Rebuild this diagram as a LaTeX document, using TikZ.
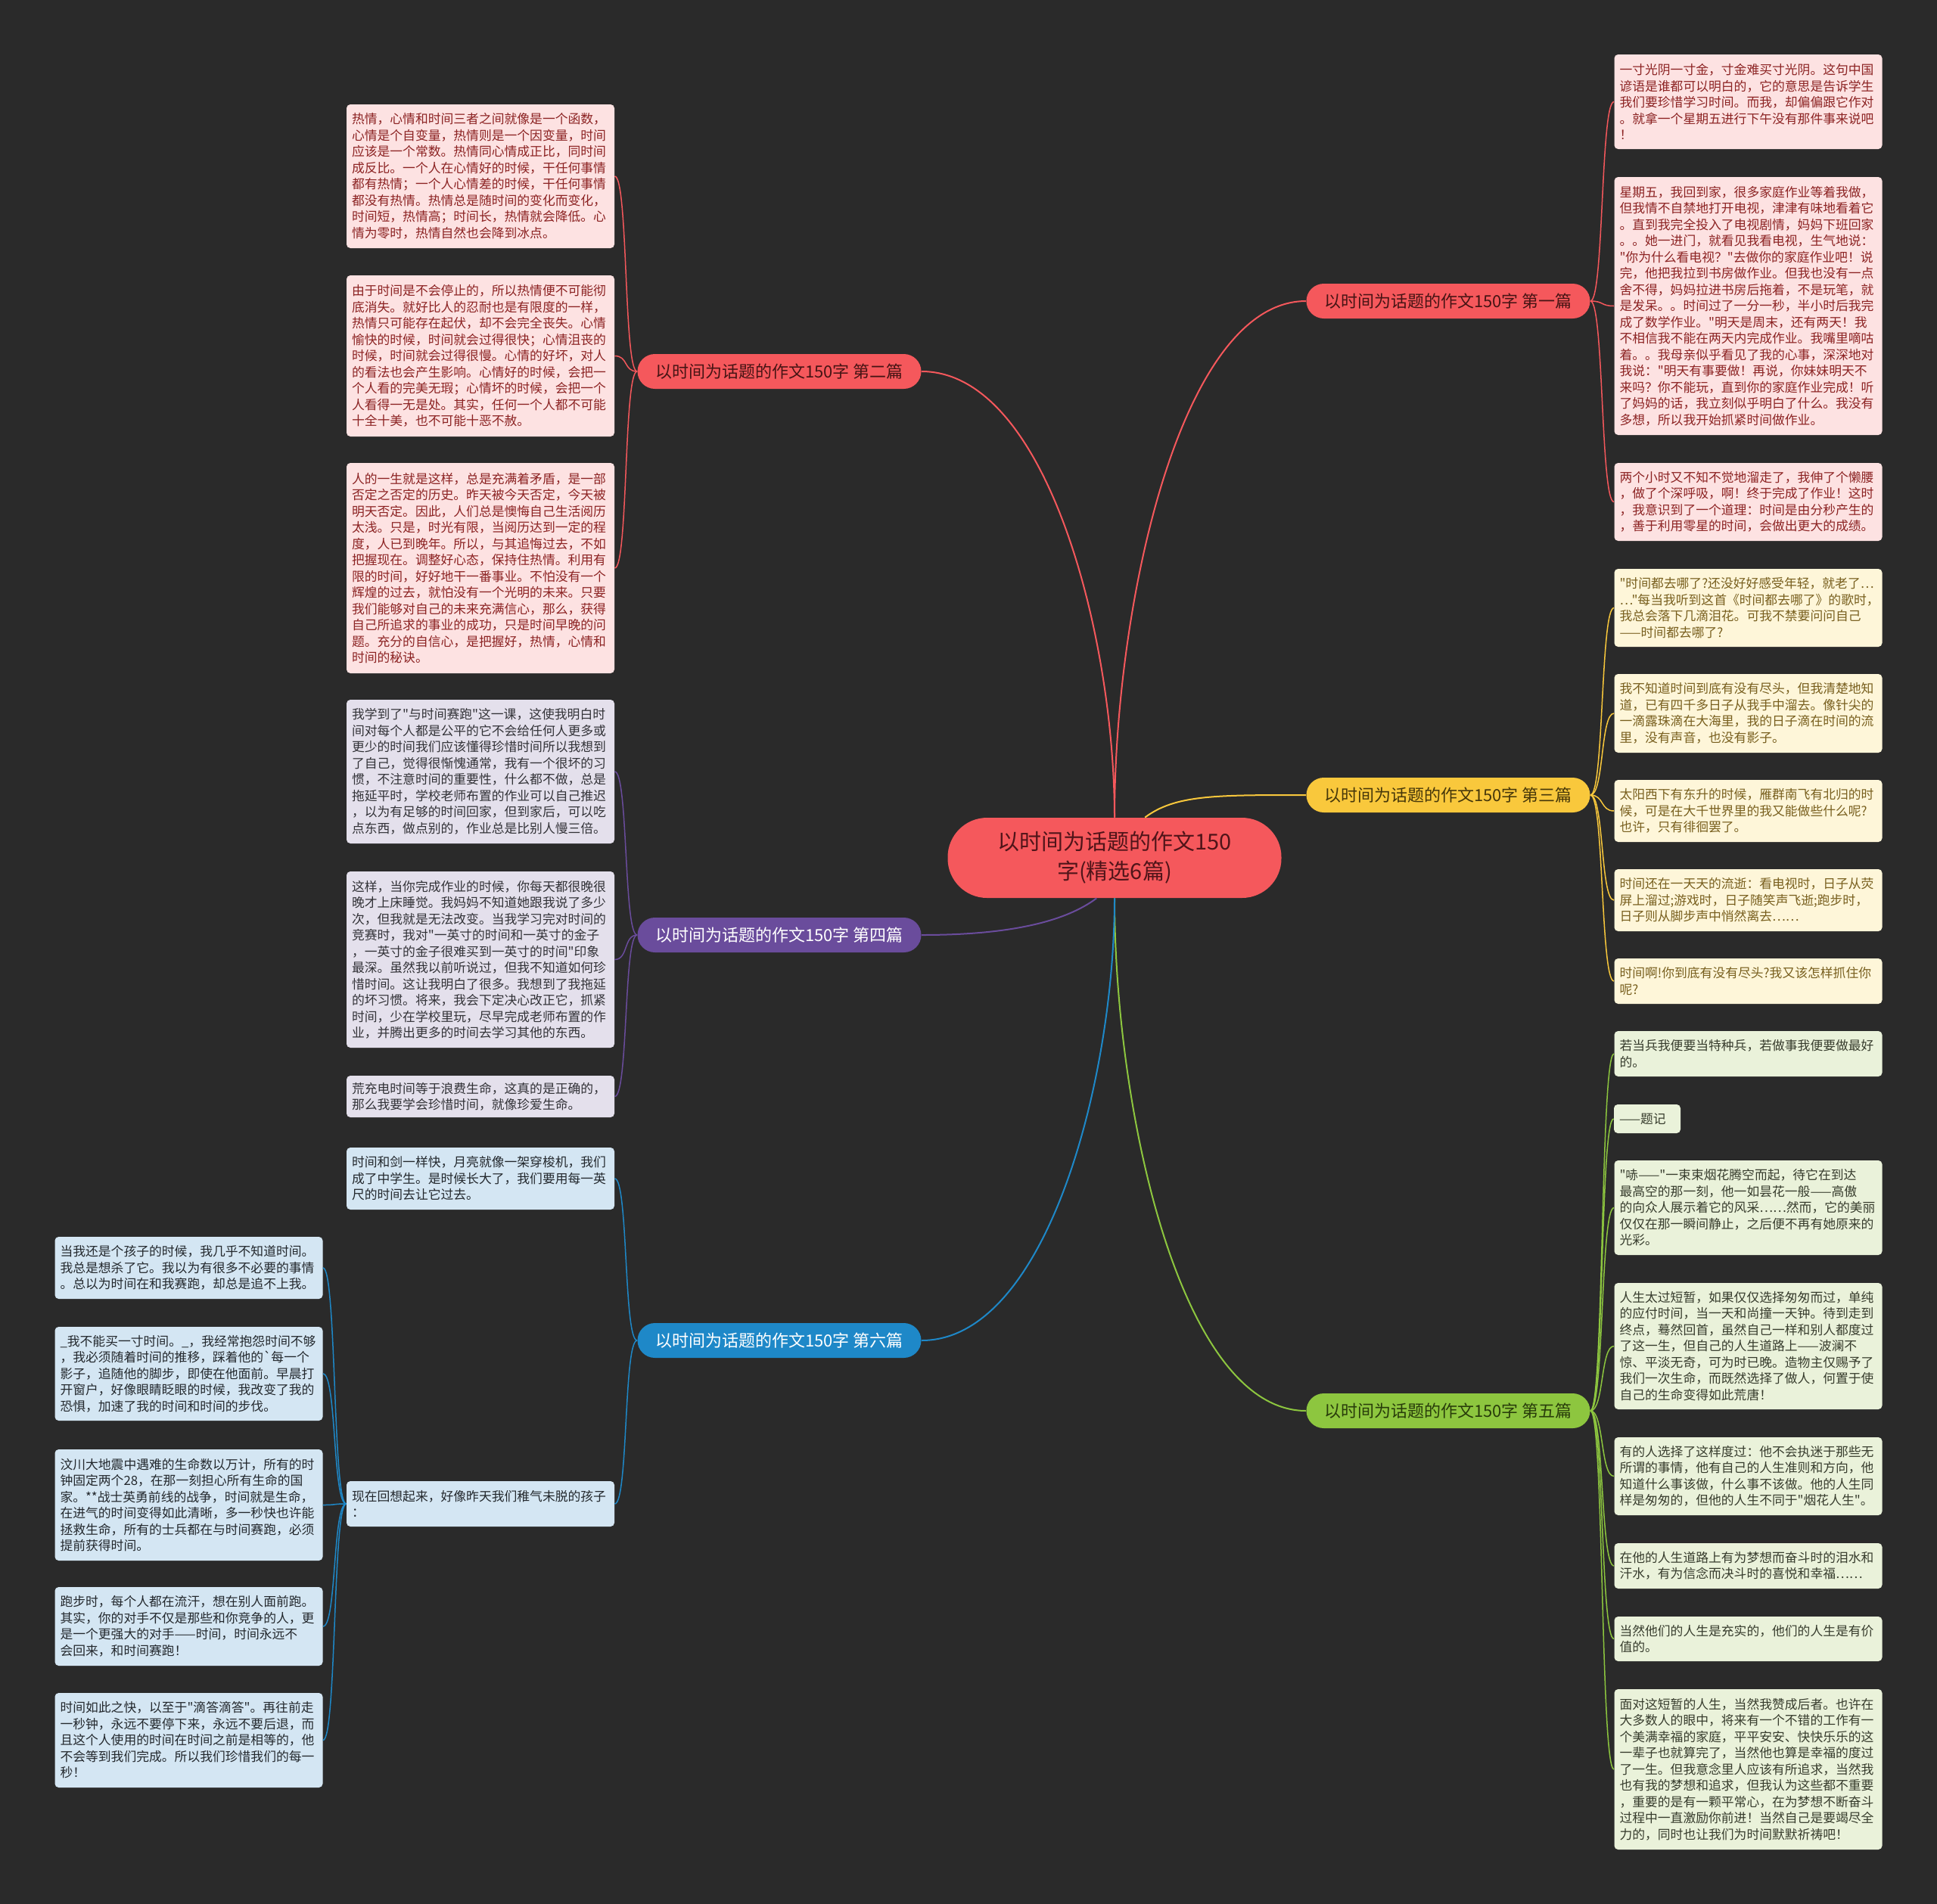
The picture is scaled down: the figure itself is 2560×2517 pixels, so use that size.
\documentclass[tikz,border=0pt]{standalone}
\usepackage{fontspec}
\newfontfamily\cjk{Noto Sans CJK SC}
\definecolor{bg}{RGB}{42,42,42}
\definecolor{cred}{RGB}{245,88,92}
\definecolor{cyel}{RGB}{249,200,60}
\definecolor{cpur}{RGB}{106,76,156}
\definecolor{cblu}{RGB}{30,136,200}
\definecolor{cgrn}{RGB}{141,198,63}
\definecolor{fred}{RGB}{253,226,226}
\definecolor{fyel}{RGB}{254,246,217}
\definecolor{fpur}{RGB}{228,224,236}
\definecolor{fblu}{RGB}{212,230,243}
\definecolor{fgrn}{RGB}{234,242,218}
\definecolor{tred}{RGB}{140,35,35}
\definecolor{tyel}{RGB}{120,95,30}
\definecolor{tpur}{RGB}{50,50,55}
\definecolor{tblu}{RGB}{35,40,45}
\definecolor{tgrn}{RGB}{55,60,45}
\definecolor{bred}{RGB}{70,20,20}
\definecolor{byel}{RGB}{70,55,10}
\definecolor{bgrn}{RGB}{40,60,10}
\definecolor{ctxt}{RGB}{80,20,25}
\tikzset{
  leaf/.style={rounded corners=2.5pt, text width=170pt, inner xsep=3.5pt, inner ysep=0pt, align=left,
    font=\cjk\fontsize{8.4}{10.75}\selectfont},
  lred/.style={leaf, fill=fred, text=tred},
  lyel/.style={leaf, fill=fyel, text=tyel},
  lpur/.style={leaf, fill=fpur, text=tpur},
  lblu/.style={leaf, fill=fblu, text=tblu},
  lgrn/.style={leaf, fill=fgrn, text=tgrn},
  branch/.style={rounded corners=11.5pt, minimum width=187.5pt, minimum height=23pt, inner sep=0pt,
    font=\cjk\fontsize{11}{13}\selectfont},
  hub/.style={rounded corners=26pt, minimum width=220.5pt, minimum height=53pt, inner sep=0pt, align=center,
    fill=cred, text=ctxt, font=\cjk\fontsize{14.5}{19.5}\selectfont},
  mainline/.style={line width=1pt},
  subline/.style={line width=0.75pt},
}
\begin{document}
\begin{tikzpicture}[x=0.5pt,y=-0.5pt]
\fill[bg] (0,0) rectangle (2560,2517);
\useasboundingbox (0,0) rectangle (2560,2517);

% center
\node[hub] (c) at (1473,1134) {以时间为话题的作文150\\字(精选6篇)};

% branches
\node[branch, fill=cred, text=bred] (b1) at (1914,398) {以时间为话题的作文150字 第一篇};
\node[branch, fill=cred, text=bred] (b2) at (1030,491) {以时间为话题的作文150字 第二篇};
\node[branch, fill=cyel, text=byel] (b3) at (1914,1051) {以时间为话题的作文150字 第三篇};
\node[branch, fill=cpur, text=white] (b4) at (1030,1236) {以时间为话题的作文150字 第四篇};
\node[branch, fill=cgrn, text=bgrn] (b5) at (1914,1865) {以时间为话题的作文150字 第五篇};
\node[branch, fill=cblu, text=white] (b6) at (1030,1772) {以时间为话题的作文150字 第六篇};

% center connectors
\draw[mainline, cred] (c.north) .. controls +(0,-281) and +(-166,0) .. (b1.west);
\draw[mainline, cred] (c.north) .. controls +(0,-240) and +(165,0) .. (b2.east);
\draw[mainline, cyel] (c.53.6) .. controls +(40,-30) and +(-120,0) .. (b3.west);
\draw[mainline, cpur] (c.246.5) .. controls +(-40,30) and +(120,0) .. (b4.east);
\draw[mainline, cgrn] (c.south) .. controls +(0,280) and +(-166,0) .. (b5.west);
\draw[mainline, cblu] (c.south) .. controls +(0,240) and +(165,0) .. (b6.east);

% ---- 第二篇 leaves
\node[lred, minimum height=95pt] (l1) at (635,233) {热情，心情和时间三者之间就像是一个函数，\\心情是个自变量，热情则是一个因变量，时间\\应该是一个常数。热情同心情成正比，同时间\\成反比。一个人在心情好的时候，干任何事情\\都有热情；一个人心情差的时候，干任何事情\\都没有热情。热情总是随时间的变化而变化，\\时间短，热情高；时间长，热情就会降低。心\\情为零时，热情自然也会降到冰点。};
\node[lred, minimum height=106.5pt] (l2) at (635,470.5) {由于时间是不会停止的，所以热情便不可能彻\\底消失。就好比人的忍耐也是有限度的一样，\\热情只可能存在起伏，却不会完全丧失。心情\\愉快的时候，时间就会过得很快；心情沮丧的\\时候，时间就会过得很慢。心情的好坏，对人\\的看法也会产生影响。心情好的时候，会把一\\个人看的完美无瑕；心情坏的时候，会把一个\\人看得一无是处。其实，任何一个人都不可能\\十全十美，也不可能十恶不赦。};
\node[lred, minimum height=139pt] (l3) at (635,751) {人的一生就是这样，总是充满着矛盾，是一部\\否定之否定的历史。昨天被今天否定，今天被\\明天否定。因此，人们总是懊悔自己生活阅历\\太浅。只是，时光有限，当阅历达到一定的程\\度，人已到晚年。所以，与其追悔过去，不如\\把握现在。调整好心态，保持住热情。利用有\\限的时间，好好地干一番事业。不怕没有一个\\辉煌的过去，就怕没有一个光明的未来。只要\\我们能够对自己的未来充满信心，那么，获得\\自己所追求的事业的成功，只是时间早晚的问\\题。充分的自信心，是把握好，热情，心情和\\时间的秘诀。};

% ---- 第四篇 leaves
\node[lpur, minimum height=95pt] (p1) at (635,1020) {我学到了"与时间赛跑"这一课，这使我明白时\\间对每个人都是公平的它不会给任何人更多或\\更少的时间我们应该懂得珍惜时间所以我想到\\了自己，觉得很惭愧通常，我有一个很坏的习\\惯，不注意时间的重要性，什么都不做，总是\\拖延平时，学校老师布置的作业可以自己推迟\\，以为有足够的时间回家，但到家后，可以吃\\点东西，做点别的，作业总是比别人慢三倍。};
\node[lpur, minimum height=116.5pt] (p2) at (635,1268.5) {这样，当你完成作业的时候，你每天都很晚很\\晚才上床睡觉。我妈妈不知道她跟我说了多少\\次，但我就是无法改变。当我学习完对时间的\\竞赛时，我对"一英寸的时间和一英寸的金子\\，一英寸的金子很难买到一英寸的时间"印象\\最深。虽然我以前听说过，但我不知道如何珍\\惜时间。这让我明白了很多。我想到了我拖延\\的坏习惯。将来，我会下定决心改正它，抓紧\\时间，少在学校里玩，尽早完成老师布置的作\\业，并腾出更多的时间去学习其他的东西。};
\node[lpur, minimum height=27.5pt] (p3) at (635,1449.5) {荒充电时间等于浪费生命，这真的是正确的，\\那么我要学会珍惜时间，就像珍爱生命。};

% ---- 第六篇 leaves
\node[lblu, minimum height=41pt] (s1) at (635,1558) {时间和剑一样快，月亮就像一架穿梭机，我们\\成了中学生。是时候长大了，我们要用每一英\\尺的时间去让它过去。};
\node[lblu, minimum height=30pt] (s2) at (635,1988) {现在回想起来，好像昨天我们稚气未脱的孩子\\：};

\node[lblu, minimum height=41pt] (f1) at (249.5,1676) {当我还是个孩子的时候，我几乎不知道时间。\\我总是想杀了它。我以为有很多不必要的事情\\。总以为时间在和我赛跑，却总是追不上我。};
\node[lblu, minimum height=62pt] (f2) at (249.5,1816) {\_我不能买一寸时间。\_，我经常抱怨时间不够\\，我必须随着时间的推移，踩着他的\textasciigrave{}每一个\\影子，追随他的脚步，即使在他面前。早晨打\\开窗户，好像眼睛眨眼的时候，我改变了我的\\恐惧，加速了我的时间和时间的步伐。};
\node[lblu, minimum height=73.5pt] (f3) at (249.5,1989.5) {汶川大地震中遇难的生命数以万计，所有的时\\钟固定两个28，在那一刻担心所有生命的国\\家。**战士英勇前线的战争，时间就是生命，\\在进气的时间变得如此清晰，多一秒快也许能\\拯救生命，所有的士兵都在与时间赛跑，必须\\提前获得时间。};
\node[lblu, minimum height=52pt] (f4) at (249.5,2150) {跑步时，每个人都在流汗，想在别人面前跑。\\其实，你的对手不仅是那些和你竞争的人，更\\是一个更强大的对手——时间，时间永远不\\会回来，和时间赛跑！};
\node[lblu, minimum height=62.5pt] (f5) at (249.5,2300.5) {时间如此之快，以至于"滴答滴答"。再往前走\\一秒钟，永远不要停下来，永远不要后退，而\\且这个人使用的时间在时间之前是相等的，他\\不会等到我们完成。所以我们珍惜我们的每一\\秒！};

% ---- 第一篇 leaves
\node[lred, minimum height=62.5pt] (r1) at (2310.5,134.5) {一寸光阴一寸金，寸金难买寸光阴。这句中国\\谚语是谁都可以明白的，它的意思是告诉学生\\我们要珍惜学习时间。而我，却偏偏跟它作对\\。就拿一个星期五进行下午没有那件事来说吧\\！};
\node[lred, minimum height=170.5pt] (r2) at (2310.5,404.5) {星期五，我回到家，很多家庭作业等着我做，\\但我情不自禁地打开电视，津津有味地看着它\\。直到我完全投入了电视剧情，妈妈下班回家\\。。她一进门，就看见我看电视，生气地说：\\"你为什么看电视？"去做你的家庭作业吧！说\\完，他把我拉到书房做作业。但我也没有一点\\舍不得，妈妈拉进书房后拖着，不是玩笔，就\\是发呆。。时间过了一分一秒，半小时后我完\\成了数学作业。"明天是周末，还有两天！我\\不相信我不能在两天内完成作业。我嘴里嘀咕\\着。。我母亲似乎看见了我的心事，深深地对\\我说："明天有事要做！再说，你妹妹明天不\\来吗？你不能玩，直到你的家庭作业完成！听\\了妈妈的话，我立刻似乎明白了什么。我没有\\多想，所以我开始抓紧时间做作业。};
\node[lred, minimum height=51.5pt] (r3) at (2310.5,663.5) {两个小时又不知不觉地溜走了，我伸了个懒腰\\，做了个深呼吸，啊！终于完成了作业！这时\\，我意识到了一个道理：时间是由分秒产生的\\，善于利用零星的时间，会做出更大的成绩。};

% ---- 第三篇 leaves
\node[lyel, minimum height=51.5pt] (y1) at (2310.5,803.5) {"时间都去哪了?还没好好感受年轻，就老了…\\…"每当我听到这首《时间都去哪了》的歌时，\\我总会落下几滴泪花。可我不禁要问问自己\\——时间都去哪了?};
\node[lyel, minimum height=52pt] (y2) at (2310.5,943) {我不知道时间到底有没有尽头，但我清楚地知\\道，已有四千多日子从我手中溜去。像针尖的\\一滴露珠滴在大海里，我的日子滴在时间的流\\里，没有声音，也没有影子。};
\node[lyel, minimum height=41pt] (y3) at (2310.5,1072) {太阳西下有东升的时候，雁群南飞有北归的时\\候，可是在大千世界里的我又能做些什么呢?\\也许，只有徘徊罢了。};
\node[lyel, minimum height=41pt] (y4) at (2310.5,1190) {时间还在一天天的流逝：看电视时，日子从荧\\屏上溜过;游戏时，日子随笑声飞逝;跑步时，\\日子则从脚步声中悄然离去……};
\node[lyel, minimum height=30pt] (y5) at (2310.5,1297) {时间啊!你到底有没有尽头?我又该怎样抓住你\\呢?};

% ---- 第五篇 leaves
\node[lgrn, minimum height=30pt] (g1) at (2310.5,1393) {若当兵我便要当特种兵，若做事我便要做最好\\的。};
\node[lgrn, text width=37pt, minimum height=19pt] (g2) at (2177,1479) {——题记};
\node[lgrn, minimum height=62.5pt] (g3) at (2310.5,1596.5) {"哧——"一束束烟花腾空而起，待它在到达\\最高空的那一刻，他一如昙花一般——高傲\\的向众人展示着它的风采……然而，它的美丽\\仅仅在那一瞬间静止，之后便不再有她原来的\\光彩。};
\node[lgrn, minimum height=83.5pt] (g4) at (2310.5,1779.5) {人生太过短暂，如果仅仅选择匆匆而过，单纯\\的应付时间，当一天和尚撞一天钟。待到走到\\终点，蓦然回首，虽然自己一样和别人都度过\\了这一生，但自己的人生道路上——波澜不\\惊、平淡无奇，可为时已晚。造物主仅赐予了\\我们一次生命，而既然选择了做人，何置于使\\自己的生命变得如此荒唐！};
\node[lgrn, minimum height=51.5pt] (g5) at (2310.5,1951.5) {有的人选择了这样度过：他不会执迷于那些无\\所谓的事情，他有自己的人生准则和方向，他\\知道什么事该做，什么事不该做。他的人生同\\样是匆匆的，但他的人生不同于"烟花人生"。};
\node[lgrn, minimum height=30pt] (g6) at (2310.5,2070) {在他的人生道路上有为梦想而奋斗时的泪水和\\汗水，有为信念而决斗时的喜悦和幸福……};
\node[lgrn, minimum height=29.5pt] (g7) at (2310.5,2166.5) {当然他们的人生是充实的，他们的人生是有价\\值的。};
\node[lgrn, minimum height=106pt] (g8) at (2310.5,2339) {面对这短暂的人生，当然我赞成后者。也许在\\大多数人的眼中，将来有一个不错的工作有一\\个美满幸福的家庭，平平安安、快快乐乐的这\\一辈子也就算完了，当然他也算是幸福的度过\\了一生。但我意念里人应该有所追求，当然我\\也有我的梦想和追求，但我认为这些都不重要\\，重要的是有一颗平常心，在为梦想不断奋斗\\过程中一直激励你前进！当然自己是要竭尽全\\力的，同时也让我们为时间默默祈祷吧！};

% ---- leaf connectors
\foreach \n in {r1,r2,r3}
  \draw[subline, cred] (b1.east) .. controls +(18,0) and +(-18,0) .. (\n.west);
\foreach \n in {l1,l2,l3}
  \draw[subline, cred] (b2.west) .. controls +(-18,0) and +(18,0) .. (\n.east);
\foreach \n in {y1,y2,y3,y4,y5}
  \draw[subline, cyel] (b3.east) .. controls +(18,0) and +(-18,0) .. (\n.west);
\foreach \n in {p1,p2,p3}
  \draw[subline, cpur] (b4.west) .. controls +(-18,0) and +(18,0) .. (\n.east);
\foreach \n in {g1,g2,g3,g4,g5,g6,g7,g8}
  \draw[subline, cgrn] (b5.east) .. controls +(18,0) and +(-18,0) .. (\n.west);
\foreach \n in {s1,s2}
  \draw[subline, cblu] (b6.west) .. controls +(-18,0) and +(18,0) .. (\n.east);
\foreach \n in {f1,f2,f3,f4,f5}
  \draw[subline, cblu] (s2.west) .. controls +(-18,0) and +(18,0) .. (\n.east);
\end{tikzpicture}
\end{document}
